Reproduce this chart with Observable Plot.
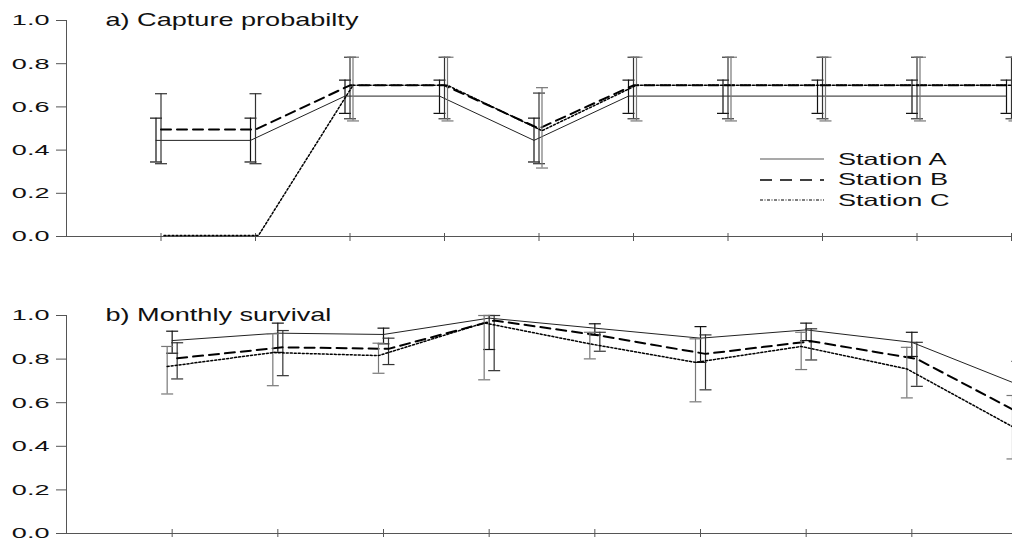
<!DOCTYPE html>
<html>
<head>
<meta charset="utf-8">
<script src="https://cdn.jsdelivr.net/npm/d3@7"></script>
<script src="https://cdn.jsdelivr.net/npm/@observablehq/plot@0.6"></script>
<style>
  body { margin: 0; background: #fff; }
  #figure { position: relative; width: 1012px; height: 539px; overflow: hidden; font-family: "Liberation Sans", Arial, sans-serif; }
  #figure svg { display: block; }
  .legend-row { position: absolute; left: 760px; height: 20px; display: flex; align-items: center; }
  .legend-row svg { display: block; }
  .legend-row span { display: inline-block; font-size: 16.5px; color: #111; margin-left: 14px; transform-origin: left center; white-space: nowrap; }
</style>
</head>
<body>
<div id="figure"></div>
<script>
// ---- data -------------------------------------------------------------
const stations = ["Station A", "Station B", "Station C"];
const yTicks = [0, 0.2, 0.4, 0.6, 0.8, 1.0];
const panelTitles = ["a) Capture probabilty", "b) Monthly survival"];

// a) capture probability, sampling occasions 1–10
const captureOccasions = [1, 2, 3, 4, 5, 6, 7, 8, 9, 10];
const captureA     = [0.445, 0.445, 0.65, 0.65, 0.445, 0.65, 0.65, 0.65, 0.65, 0.65];
const captureALow  = [0.345, 0.345, 0.57, 0.57, 0.345, 0.57, 0.57, 0.57, 0.57, 0.57];
const captureAHigh = [0.548, 0.548, 0.724, 0.724, 0.548, 0.724, 0.724, 0.724, 0.724, 0.724];
const captureB     = [0.495, 0.495, 0.70, 0.70, 0.50, 0.70, 0.70, 0.70, 0.70, 0.70];
const captureBLow  = [0.337, 0.337, 0.545, 0.545, 0.337, 0.545, 0.545, 0.545, 0.545, 0.545];
const captureBHigh = [0.661, 0.661, 0.83, 0.83, 0.664, 0.83, 0.83, 0.83, 0.83, 0.83];
const captureC     = [0.005, 0.005, 0.70, 0.70, 0.49, 0.70, 0.70, 0.70, 0.70, 0.70];
const captureCLow  = [null, null, 0.535, 0.535, 0.317, 0.535, 0.535, 0.535, 0.535, 0.535];
const captureCHigh = [null, null, 0.83, 0.83, 0.689, 0.83, 0.83, 0.83, 0.83, 0.83];

// b) monthly survival, intervals 1–9
const survivalIntervals = [1, 2, 3, 4, 5, 6, 7, 8, 9];
const survivalA     = [0.885, 0.919, 0.913, 0.988, 0.942, 0.896, 0.934, 0.877, 0.684];
const survivalALow  = [0.827, 0.831, 0.870, 0.844, 0.911, 0.785, 0.885, 0.812, 0.57];
const survivalAHigh = [0.928, 0.965, 0.942, 1.0, 0.962, 0.949, 0.965, 0.923, 0.79];
const survivalB     = [0.804, 0.854, 0.847, 0.977, 0.908, 0.824, 0.882, 0.801, 0.545];
const survivalBLow  = [0.709, 0.724, 0.775, 0.747, 0.836, 0.659, 0.796, 0.675, 0.40];
const survivalBHigh = [0.875, 0.931, 0.896, 1.0, 0.923, 0.911, 0.939, 0.877, 0.68];
const survivalC     = [0.766, 0.830, 0.816, 0.966, 0.870, 0.785, 0.858, 0.755, 0.490];
const survivalCLow  = [0.640, 0.678, 0.735, 0.705, 0.801, 0.604, 0.752, 0.622, 0.342];
const survivalCHigh = [0.858, 0.916, 0.873, 1.0, 0.923, 0.893, 0.923, 0.854, 0.633];

// ---- styling ------------------------------------------------------------
const FONT = '"Liberation Sans", Arial, sans-serif';
const EM_WIDTH = 27.1;               // horizontal pixels per em of the wide lettering
const AXIS = "#555";
const lineStyles = {
  "Station A": {stroke: "#222", strokeWidth: 1},
  "Station B": {stroke: "#000", strokeWidth: 2, strokeDasharray: "10,6"},
  "Station C": {stroke: "#000", strokeWidth: 1.5, strokeDasharray: "2,2"}
};
const barColors = {"Station A": "#111", "Station B": "#333", "Station C": "#777"};
// horizontal cap drawn at each end of an error bar
const cap = {draw(context) { context.moveTo(-6, 0); context.lineTo(6, 0); }};

function rows(xs, est, lo, hi) {
  return xs.map((x, i) => ({x, est: est[i], lo: lo[i], hi: hi[i]}));
}

function stationMarks(data, name, dx) {
  const bar = {x: "x", dx, stroke: barColors[name], strokeWidth: 1.2};
  return [
    Plot.ruleX(data, {...bar, y1: "lo", y2: "hi"}),
    Plot.dot(data, {...bar, y: "lo", symbol: cap, fill: "none"}),
    Plot.dot(data, {...bar, y: "hi", symbol: cap, fill: "none"}),
    Plot.line(data, {x: "x", y: "est", dx, ...lineStyles[name]})
  ];
}

function panel({height, marginTop, marginBottom, marginRight, xDomain, xRange, xTicks, title, series, tickShift}) {
  return Plot.plot({
    width: 1012,
    height,
    marginLeft: 66,
    marginRight,
    marginTop,
    marginBottom,
    style: {fontFamily: FONT, fontSize: "15.5px", color: "#111", background: "#fff", overflow: "hidden"},
    x: {domain: xDomain, range: xRange},
    y: {domain: [0, 1]},
    marks: [
      Plot.ruleX([0], {stroke: AXIS}),
      Plot.ruleY([0], {stroke: AXIS}),
      Plot.axisY({ticks: yTicks, tickFormat: d3.format(".1f"), tickSize: 10, tickPadding: 7, stroke: AXIS, label: null}),
      Plot.axisX({ticks: xTicks, tickFormat: () => "", tickSize: 8, dy: tickShift, stroke: AXIS, label: null}),
      ...series,
      Plot.text([title], {text: d => d, frameAnchor: "top-left", dx: 39, textAnchor: "start", lineAnchor: "middle", fontSize: 17.5, fill: "#111"})
    ]
  });
}

// ---- panel a: capture probability --------------------------------------
const captureRows = {
  "Station A": rows(captureOccasions, captureA, captureALow, captureAHigh),
  "Station B": rows(captureOccasions, captureB, captureBLow, captureBHigh),
  "Station C": rows(captureOccasions, captureC, captureCLow, captureCHigh)
};
const captureShift = {"Station A": -5, "Station B": 0, "Station C": 3};

const capturePanel = panel({
  height: 262, marginTop: 20, marginBottom: 26, marginRight: 1,
  xDomain: [0, 10], xRange: [66, 1011], xTicks: captureOccasions,
  title: panelTitles[0], tickShift: -3,
  series: stations.flatMap(s => stationMarks(captureRows[s], s, captureShift[s]))
});

// ---- panel b: monthly survival ------------------------------------------
const survivalRows = {
  "Station A": rows(survivalIntervals, survivalA, survivalALow, survivalAHigh),
  "Station B": rows(survivalIntervals, survivalB, survivalBLow, survivalBHigh),
  "Station C": rows(survivalIntervals, survivalC, survivalCLow, survivalCHigh)
};
const survivalShift = {"Station A": 0, "Station B": 5, "Station C": -5};

const survivalPanel = panel({
  height: 277, marginTop: 53, marginBottom: 6, marginRight: 0,
  xDomain: [0, 9], xRange: [66, 1017], xTicks: survivalIntervals,
  title: panelTitles[1], tickShift: -4,
  series: stations.flatMap(s => stationMarks(survivalRows[s], s, survivalShift[s]))
});

const figure = document.getElementById("figure");
figure.append(capturePanel, survivalPanel);

// ---- legend ------------------------------------------------------------
const legend = d3.select(figure).selectAll("div.legend-row")
  .data(stations)
  .join("div")
  .attr("class", "legend-row")
  .style("top", (d, i) => `${149 + i * 20.5}px`);
legend.append("svg")
  .attr("width", 64).attr("height", 20)
  .append("line")
  .attr("x1", 0).attr("x2", 64).attr("y1", 10).attr("y2", 10)
  .attr("stroke", d => d === "Station A" ? "#555" : "#000")
  .attr("stroke-width", d => d === "Station B" ? 1.4 : 1.2)
  .attr("stroke-dasharray", d => d === "Station B" ? "12,8" : d === "Station C" ? "3,1.5,1,1.5" : null);
legend.append("span")
  .text(d => d)
  .style("transform", `scaleX(${EM_WIDTH / 16.5})`);

// widen the SVG lettering about each label's own anchor point
figure.querySelectorAll("svg text").forEach(t => {
  const k = EM_WIDTH / parseFloat(getComputedStyle(t).fontSize);
  const x = +(t.getAttribute("x") || 0);
  const tr = t.getAttribute("transform") || "";
  t.setAttribute("transform", `${tr} translate(${x},0) scale(${k.toFixed(3)},1) translate(${-x},0)`);
});
</script>
</body>
</html>
